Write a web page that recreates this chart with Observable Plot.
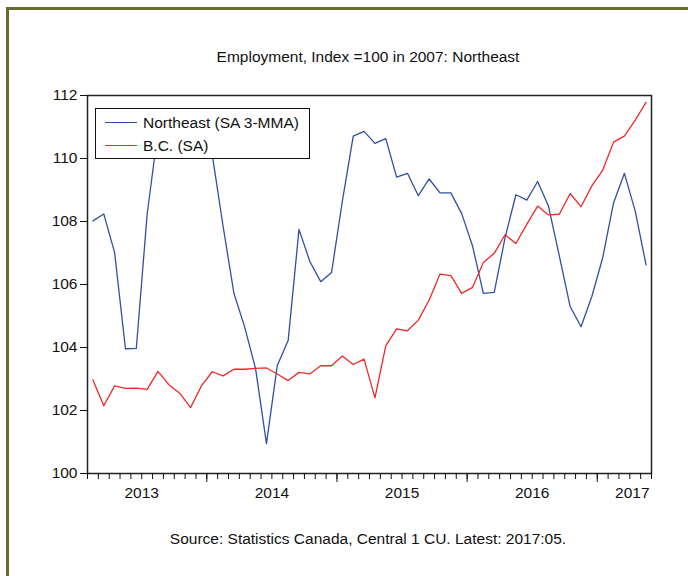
<!DOCTYPE html>
<html><head><meta charset="utf-8">
<script src="https://cdn.jsdelivr.net/npm/d3@7"></script>
<script src="https://cdn.jsdelivr.net/npm/@observablehq/plot@0.6"></script>
<style>
body{margin:0;background:#fff;font-family:"Liberation Sans",Arial,sans-serif;color:#111;}
#page{position:relative;width:688px;height:576px;overflow:hidden;background:#fff;}
#frame{position:absolute;left:6px;top:7px;width:720px;height:620px;border-left:3px solid #6b6b2e;border-top:3px solid #6b6b2e;}
#title{position:absolute;left:0;width:736px;top:48px;text-align:center;font-size:15.5px;line-height:18px;}
#caption{position:absolute;left:0;width:736px;top:530px;text-align:center;font-size:15.5px;line-height:18px;}
#chart{position:absolute;left:0;top:80px;}
#legend{position:absolute;left:95px;top:108px;width:213px;height:49px;border:1.5px solid #111;background:#fff;}
.lg{position:absolute;left:0;height:18px;font-size:15.5px;line-height:18px;}
.lg span.sw{position:absolute;left:9px;top:8px;width:32px;height:0;border-top:1.3px solid;}
.lg span.tx{position:absolute;left:47px;top:0;white-space:nowrap;}
</style>
</head><body>
<div id="page">
  <div id="frame"></div>
  <div id="title">Employment, Index =100 in 2007: Northeast</div>
  <div id="chart"></div>
  <div id="legend"></div>
  <div id="caption">Source: Statistics Canada, Central 1 CU. Latest: 2017:05.</div>
</div>
<script>
// Monthly data, Feb 2013 .. May 2017
const startYear = 2013, startMonth = 2;
const seriesNames = ["Northeast (SA 3-MMA)", "B.C. (SA)"];
const seriesColors = ["#2f4fa8", "#f02828"];
const northeast = [
  108.02,108.24,107.01,103.96,103.97,108.23,110.88,111.2,111.3,111.1,110.7,110.12,
  107.85,105.72,104.64,103.32,100.95,103.43,104.22,107.75,106.73,106.09,106.38,108.65,
  110.71,110.86,110.48,110.63,109.41,109.53,108.82,109.35,108.91,108.91,108.25,107.22,
  105.72,105.75,107.49,108.85,108.68,109.27,108.49,106.91,105.30,104.66,105.62,106.85,
  108.59,109.53,108.33,106.62
];
const bc = [
  102.97,102.15,102.78,102.70,102.71,102.67,103.24,102.82,102.55,102.09,102.78,103.23,
  103.10,103.31,103.31,103.34,103.35,103.16,102.95,103.21,103.16,103.42,103.42,103.73,
  103.46,103.63,102.40,104.05,104.59,104.53,104.87,105.51,106.33,106.28,105.72,105.91,
  106.70,106.99,107.58,107.30,107.91,108.49,108.21,108.23,108.89,108.47,109.13,109.63,
  110.52,110.71,111.22,111.78
];
const yTicks = [100,102,104,106,108,110,112];
const yearLabels = ["2013","2014","2015","2016","2017"];

// month index: 0 = start of Feb 2013; points at mid-month
const n = northeast.length;
const months = d3.range(n).map(i => {
  const m = startMonth - 1 + i;
  return {year: startYear + Math.floor(m / 12), month: (m % 12) + 1, t: i + 0.5};
});
const rows = [];
months.forEach((mo, i) => {
  rows.push({series: seriesNames[0], t: mo.t, v: northeast[i]});
  rows.push({series: seriesNames[1], t: mo.t, v: bc[i]});
});
const xMax = n;
const monthTicks = d3.range(0, xMax + 1);
const yearStart = y => (y - startYear) * 12 - (startMonth - 1);
const majorTicks = monthTicks.filter(t => (t + startMonth - 1) % 12 === 0);
const labels = yearLabels.map(y => {
  const c = yearStart(+y) + 6;
  return c > xMax ? {text: y, t: xMax, anchor: "end"} : {text: y, t: c, anchor: "middle"};
});

const chart = Plot.plot({
  width: 688, height: 440,
  marginTop: 15, marginLeft: 87, marginRight: 37, marginBottom: 47,
  x: {domain: [0, xMax]},
  y: {domain: [100, 112]},
  color: {domain: seriesNames, range: seriesColors},
  style: {fontFamily: "Liberation Sans, Arial, sans-serif", fontSize: "15.5px", color: "#111", background: "transparent"},
  marks: [
    Plot.line(rows, {x: "t", y: "v", z: "series", stroke: "series", strokeWidth: 1.3, clip: true}),
    Plot.frame({stroke: "#222", strokeWidth: 1.5}),
    Plot.axisY({ticks: yTicks, tickSize: 7, tickPadding: 3, tickFormat: d => String(d), label: null, fontSize: 15.5}),
    Plot.axisX({ticks: monthTicks, tickSize: 6, tickFormat: () => "", label: null}),
    Plot.axisX({ticks: majorTicks, tickSize: 9, tickFormat: () => "", label: null}),
    Plot.text(labels.filter(d => d.anchor === "middle"), {x: "t", text: "text", frameAnchor: "bottom", dy: 24, fontSize: 15.5, textAnchor: "middle"}),
    Plot.text(labels.filter(d => d.anchor === "end"), {x: "t", text: "text", frameAnchor: "bottom", dy: 24, dx: -2, fontSize: 15.5, textAnchor: "end"})
  ]
});
document.getElementById("chart").appendChild(chart);

const lg = document.getElementById("legend");
seriesNames.forEach((name, i) => {
  const row = document.createElement("div");
  row.className = "lg";
  row.style.top = (5 + i * 22.5) + "px";
  row.innerHTML = `<span class="sw" style="border-color:${seriesColors[i]}"></span><span class="tx">${name}</span>`;
  lg.appendChild(row);
});
</script>
</body></html>
